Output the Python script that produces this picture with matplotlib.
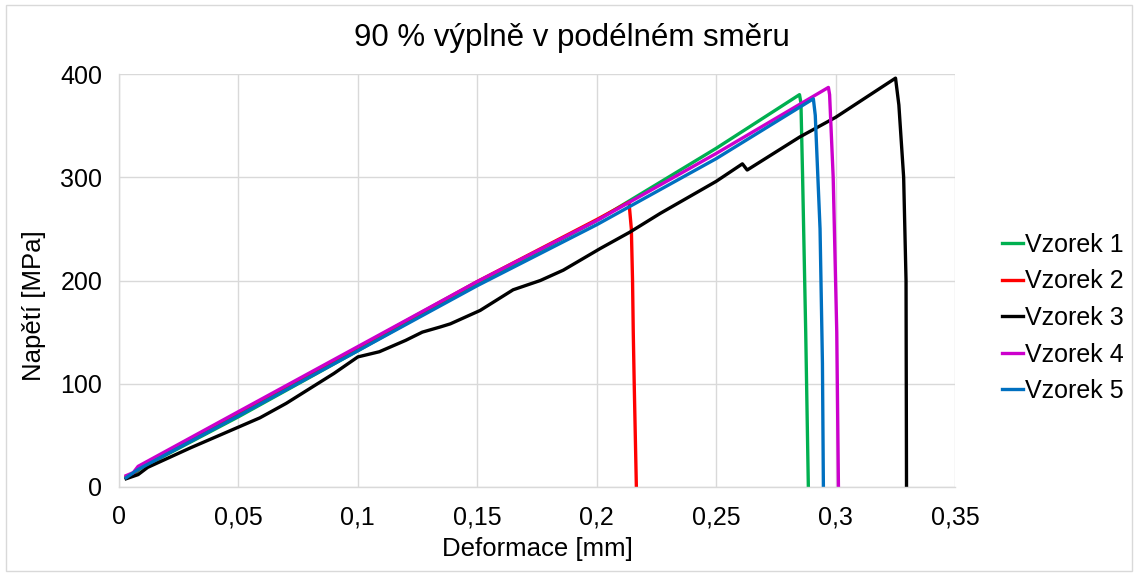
import matplotlib
matplotlib.use("Agg")
import matplotlib.pyplot as plt
from matplotlib.patches import Rectangle

plt.rcParams['font.family'] = ['Liberation Sans', 'DejaVu Sans']

title = "90 % výplně v podélném směru"
xlabel = "Deformace [mm]"
ylabel = "Napětí [MPa]"
labels = ["Vzorek 1", "Vzorek 2", "Vzorek 3", "Vzorek 4", "Vzorek 5"]
colors = ["#00B050", "#FF0000", "#000000", "#CC00CC", "#0070C0"]

x_ticks = [0, 0.05, 0.1, 0.15, 0.2, 0.25, 0.3, 0.35]
x_tick_labels = ["0", "0,05", "0,1", "0,15", "0,2", "0,25", "0,3", "0,35"]
y_ticks = [0, 100, 200, 300, 400]
y_tick_labels = ["0", "100", "200", "300", "400"]

# Vzorek 1
x1 = [0.003, 0.006, 0.009, 0.05, 0.1, 0.15, 0.2, 0.25, 0.2849, 0.2855, 0.2862, 0.2875, 0.2886]
y1 = [9, 12, 18, 68, 132, 197, 258, 328, 380, 372, 300, 150, 0]
# Vzorek 2
x2 = [0.003, 0.006, 0.009, 0.05, 0.1, 0.15, 0.2, 0.2135, 0.2145, 0.2150, 0.2153, 0.2157, 0.2166]
y2 = [10, 13, 19, 71, 135, 199, 259, 276, 250, 200, 150, 100, 0]
# Vzorek 3
x3 = [0.003, 0.008, 0.012, 0.03, 0.042, 0.05, 0.059, 0.07, 0.09, 0.1, 0.109, 0.12, 0.127,
      0.1345, 0.1387, 0.1512, 0.165, 0.1764, 0.186, 0.2015, 0.214, 0.2266, 0.25, 0.261, 0.263,
      0.285, 0.3, 0.3251, 0.3265, 0.3285, 0.3295, 0.3297]
y3 = [8, 12, 19, 38, 50, 58, 67, 81, 110, 126, 131, 142, 150,
      155, 158, 171, 191, 200, 210, 231, 247, 265, 296, 313, 307,
      339, 358, 396, 370, 300, 200, 0]
# Vzorek 4
x4 = [0.003, 0.006, 0.008, 0.05, 0.1, 0.15, 0.2, 0.25, 0.297, 0.2975, 0.299, 0.3005, 0.3012]
y4 = [11, 14, 20, 73, 136, 199, 258, 323, 387, 380, 300, 150, 0]
# Vzorek 5
x5 = [0.003, 0.008, 0.05, 0.1, 0.15, 0.2, 0.25, 0.2907, 0.2915, 0.2935, 0.2945, 0.2949]
y5 = [9, 17, 69, 132, 195, 254, 318, 376, 360, 250, 120, 0]

xs = [x1, x2, x3, x4, x5]
ys = [y1, y2, y3, y4, y5]

fig = plt.figure(figsize=(11.38, 5.75), dpi=100)
ax = fig.add_axes([119/1138, 1 - 487/575, (955-119)/1138, (487-74)/575])

for x, y, c, l in zip(xs, ys, colors, labels):
    ax.plot(x, y, color=c, lw=2.4, label=l, solid_joinstyle='round')

grid_c = "#D9D9D9"
ax.set_xlim(0, 0.35)
ax.set_ylim(0, 400)
ax.set_xticks(x_ticks)
ax.set_xticklabels(x_tick_labels)
ax.set_yticks(y_ticks)
ax.set_yticklabels(y_tick_labels)
ax.grid(True, color=grid_c, lw=1.0)
ax.set_axisbelow(True)
ax.tick_params(axis='x', length=0, labelsize=18, pad=13)
ax.tick_params(axis='y', length=0, labelsize=18, pad=12)
for s in ["top", "right"]:
    ax.spines[s].set_visible(False)
for s in ["left", "bottom"]:
    ax.spines[s].set_color(grid_c)
    ax.spines[s].set_linewidth(1.0)

ax.set_xlabel(xlabel, fontsize=18.5, labelpad=6)
ax.set_ylabel(ylabel, fontsize=18.5)
ax.yaxis.set_label_coords(46/1138, 1 - 306/575, transform=fig.transFigure)
fig.text(572/1138, 1 - 38/575, title, ha='center', va='center', fontsize=22.5)

leg = ax.legend(loc='center left', bbox_to_anchor=(1002/1138, 1 - 318/575),
                bbox_transform=fig.transFigure, frameon=False, fontsize=18,
                handlelength=0.85, handletextpad=0.08, labelspacing=0.5,
                borderaxespad=0, borderpad=0)

fig.patches.append(Rectangle((6/1138, 4/575), 1126/1138, 566/575, transform=fig.transFigure,
                             fill=False, edgecolor=grid_c, lw=1.0))

fig.savefig("out.png", dpi=100)
